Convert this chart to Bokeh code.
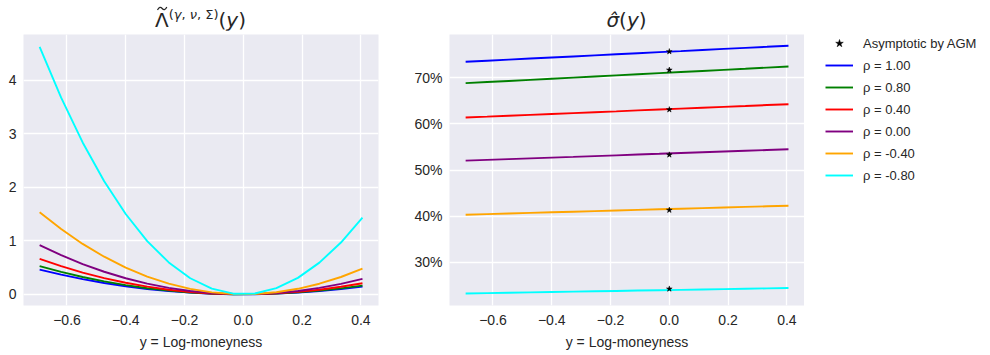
from bokeh.plotting import figure
from bokeh.models import Range1d, FixedTicker, Legend, LegendItem, CustomJSTickFormatter, Div, Spacer
from bokeh.layouts import row, column
from bokeh.embed import file_html
from bokeh.resources import INLINE

# ---------------- data ----------------
log_moneyness = [-0.6931, -0.6199, -0.5467, -0.4734, -0.4002, -0.3270, -0.2537, -0.1805,
                 -0.1072, -0.0340, 0.0392, 0.1125, 0.1857, 0.2589, 0.3322, 0.4055]

rho_labels = ["ρ = 1.00", "ρ = 0.80", "ρ = 0.40", "ρ = 0.00", "ρ = -0.40", "ρ = -0.80"]
colors = ["blue", "green", "red", "purple", "orange", "cyan"]

# rate function  Lambda~(y)
lam_rho_p100 = [0.461, 0.366, 0.283, 0.211, 0.150, 0.0993, 0.0594, 0.0299,
                0.0105, 0.0011, 0.0014, 0.0113, 0.0307, 0.0593, 0.0970, 0.1436]
lam_rho_p080 = [0.525, 0.417, 0.322, 0.240, 0.170, 0.1128, 0.0674, 0.0339,
                0.0119, 0.0012, 0.0016, 0.0128, 0.0347, 0.0670, 0.1095, 0.1620]
lam_rho_p040 = [0.660, 0.525, 0.405, 0.302, 0.215, 0.1423, 0.0851, 0.0428,
                0.0150, 0.0015, 0.0020, 0.0162, 0.0440, 0.0850, 0.1391, 0.2059]
lam_rho_000 = [0.919, 0.730, 0.564, 0.420, 0.299, 0.1981, 0.1185, 0.0596,
               0.0209, 0.0021, 0.0028, 0.0226, 0.0612, 0.1182, 0.1935, 0.2864]
lam_rho_m040 = [1.531, 1.217, 0.940, 0.701, 0.498, 0.3299, 0.1974, 0.0993,
                0.0348, 0.0035, 0.0046, 0.0376, 0.1018, 0.1968, 0.3221, 0.4766]
lam_rho_m080 = [4.620, 3.670, 2.835, 2.111, 1.499, 0.9933, 0.5940, 0.2986,
                0.1046, 0.0105, 0.0138, 0.1130, 0.3057, 0.5903, 0.9660, 1.4290]

# implied volatility sigma^(y), in percent
sig_rho_p100 = [73.48, 73.72, 73.95, 74.18, 74.41, 74.64, 74.88, 75.11,
                75.34, 75.57, 75.80, 76.04, 76.27, 76.50, 76.73, 76.97]
sig_rho_p080 = [68.84, 69.08, 69.32, 69.56, 69.80, 70.04, 70.28, 70.53,
                70.77, 71.01, 71.25, 71.49, 71.73, 71.97, 72.22, 72.46]
sig_rho_p040 = [61.38, 61.57, 61.77, 61.96, 62.15, 62.35, 62.54, 62.73,
                62.93, 63.12, 63.31, 63.51, 63.70, 63.89, 64.09, 64.28]
sig_rho_000 = [52.03, 52.20, 52.36, 52.53, 52.69, 52.85, 53.02, 53.18,
               53.35, 53.51, 53.68, 53.84, 54.01, 54.17, 54.34, 54.50]
sig_rho_m040 = [40.30, 40.43, 40.56, 40.69, 40.82, 40.95, 41.08, 41.21,
                41.34, 41.47, 41.60, 41.73, 41.86, 41.99, 42.12, 42.25]
sig_rho_m080 = [23.20, 23.28, 23.36, 23.44, 23.52, 23.60, 23.68, 23.76,
                23.84, 23.92, 24.00, 24.08, 24.16, 24.24, 24.32, 24.40]

agm_y = [0.0, 0.0, 0.0, 0.0, 0.0, 0.0]
agm_sigma = [75.7, 71.7, 63.1, 53.3, 41.3, 24.2]

x_ticks = [-0.6, -0.4, -0.2, 0.0, 0.2, 0.4]
lam_ticks = [0, 1, 2, 3, 4]
sig_ticks = [30, 40, 50, 60, 70]

lam_series = [lam_rho_p100, lam_rho_p080, lam_rho_p040, lam_rho_000, lam_rho_m040, lam_rho_m080]
sig_series = [sig_rho_p100, sig_rho_p080, sig_rho_p040, sig_rho_000, sig_rho_m040, sig_rho_m080]

# ---------------- styling ----------------
BG = "#EAEAF2"
TXT = "#262626"
FONT = "Liberation Sans"
MATHFONT = "DejaVu Sans"

W1 = 410          # left figure
LB2 = 449 - W1    # left border of right figure
W2 = LB2 + 355    # right figure (frame ends at x=804)
W3 = 990 - W1 - W2  # legend column
TITLE_H = 30
FIG_H = 325
FRAME_H = FIG_H - 4 - 50

x_fmt = CustomJSTickFormatter(code="""
    const s = Math.abs(tick).toFixed(1);
    return (tick < -1e-9 ? '\\u2212' : '') + s;
""")
pct_fmt = CustomJSTickFormatter(code="return tick.toFixed(0) + '%';")
int_fmt = CustomJSTickFormatter(code="return tick.toFixed(0);")


def style(p):
    p.background_fill_color = BG
    p.border_fill_color = "white"
    p.outline_line_color = None
    for g in (p.xgrid, p.ygrid):
        g.grid_line_color = "white"
        g.grid_line_width = 1.3
    for ax in (p.xaxis, p.yaxis):
        ax.axis_line_color = None
        ax.major_tick_line_color = None
        ax.minor_tick_line_color = None
        ax.major_tick_out = 0
        ax.major_tick_in = 0
        ax.major_label_text_font = FONT
        ax.major_label_text_font_size = "14px"
        ax.major_label_text_color = TXT
        ax.axis_label_text_font = FONT
        ax.axis_label_text_font_size = "14px"
        ax.axis_label_text_font_style = "normal"
        ax.axis_label_text_color = TXT
    p.xaxis.major_label_standoff = 9
    p.yaxis.major_label_standoff = 7
    p.xaxis.axis_label_standoff = 6
    p.xaxis.ticker = FixedTicker(ticks=x_ticks)
    p.xaxis.formatter = x_fmt
    p.xaxis.axis_label = "y = Log-moneyness"


def title_div(html, width):
    return Div(text=html, width=width, height=TITLE_H, margin=0,
               styles={"font-family": MATHFONT, "font-size": "20px", "color": TXT,
                       "font-style": "normal",
                       "text-align": "center", "line-height": "20px", "padding-top": "10px",
                       "box-sizing": "border-box", "white-space": "nowrap"})


# ---------------- left panel ----------------
p1 = figure(width=W1, height=FIG_H, output_backend="svg", toolbar_location=None,
            x_range=Range1d(-0.748, 0.460), y_range=Range1d(-0.21, 4.85),
            min_border_left=23, min_border_right=W1 - 378, min_border_top=4, min_border_bottom=50,
            margin=0)
style(p1)
p1.yaxis.ticker = FixedTicker(ticks=lam_ticks)
p1.yaxis.formatter = int_fmt
for ys, c in zip(lam_series, colors):
    p1.line(log_moneyness, ys, line_color=c, line_width=1.9)

TILDE = ('<svg style="position:absolute;left:1px;top:-4px;overflow:visible" width="12" height="5">'
         '<path d="M1.5,4 C3,0.8 4.8,0.8 6.2,2.5 C7.6,4.2 9.4,4.2 10.8,1" stroke="%s" fill="none" '
         'stroke-width="1.2"/></svg>' % TXT)
t1 = title_div('<span style="position:relative;display:inline-block;font-style:normal">Λ' + TILDE + '</span>'
               '<sup style="font-size:13px;vertical-align:8px;line-height:0">'
               '(<i>γ</i>, <i>ν</i>, Σ)</sup>(<i>y</i>)', 401)

# ---------------- right panel ----------------
p2 = figure(width=W2, height=FIG_H, output_backend="svg", toolbar_location=None,
            x_range=Range1d(-0.748, 0.460), y_range=Range1d(20.6, 79.4),
            min_border_left=LB2, min_border_right=0,
            min_border_top=4, min_border_bottom=50, margin=0)
style(p2)
p2.yaxis.ticker = FixedTicker(ticks=sig_ticks)
p2.yaxis.formatter = pct_fmt

for ys, c in zip(sig_series, colors):
    p2.line(log_moneyness, ys, line_color=c, line_width=1.9)
p2.scatter(agm_y, agm_sigma, marker="star", size=6, fill_color="black",
           line_color="black", line_width=0.5)

t2 = title_div('<i>σ\u0302</i>(<i>y</i>)', 355)

# ---------------- legend column ----------------
p3 = figure(width=W3, height=FIG_H, output_backend="svg", toolbar_location=None,
            x_axis_type=None, y_axis_type=None, x_range=Range1d(0, 1), y_range=Range1d(0, 1),
            min_border=0, min_border_top=4, min_border_bottom=50, margin=0)
p3.grid.visible = False
p3.outline_line_color = None
p3.background_fill_color = "white"
p3.border_fill_color = "white"

nan = float("nan")
star_key = p3.scatter(x=[nan], y=[nan], marker="star", size=6, fill_color="black",
                      line_color="black", line_width=0.5)
items = [LegendItem(label="Asymptotic by AGM", renderers=[star_key])]
for c, lab in zip(colors, rho_labels):
    key = p3.line(x=[nan, nan], y=[nan, nan], line_color=c, line_width=1.9)
    items.append(LegendItem(label=lab, renderers=[key]))

LEG_H = 7 * 20 + 6 * 2
legend = Legend(items=items, location=(21, FRAME_H + 1 - LEG_H), padding=0, margin=0,
                spacing=2, glyph_width=28, glyph_height=20, label_height=20,
                label_standoff=10, label_text_font=FONT, label_text_font_size="13px",
                label_text_color=TXT, background_fill_alpha=0, border_line_color=None)
p3.add_layout(legend)

title_row = row(t1, Spacer(width=W1 - 401 + LB2, height=TITLE_H, margin=0), t2,
                Spacer(width=W3, height=TITLE_H, margin=0), spacing=0, margin=0)
layout = column(title_row, row(p1, p2, p3, spacing=0, margin=0), spacing=0, margin=0)
open("out.html", "w").write(file_html(layout, INLINE))
